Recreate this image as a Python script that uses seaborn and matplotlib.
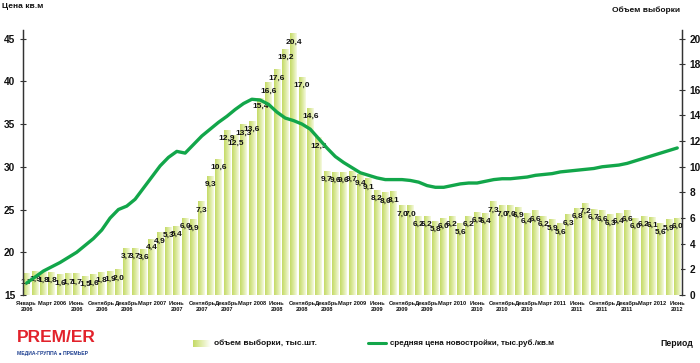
import numpy as np
import pandas as pd
import matplotlib
matplotlib.use("Agg")
import matplotlib.pyplot as plt
import seaborn as sns
from matplotlib import font_manager
from matplotlib.colors import LinearSegmentedColormap
from matplotlib.lines import Line2D

# ---------------- data ----------------
volume = [1.7, 1.9, 1.8, 1.8, 1.6, 1.7, 1.7, 1.5, 1.6, 1.8, 1.9, 2.0,
          3.7, 3.7, 3.6, 4.4, 4.9, 5.3, 5.4, 6.0, 5.9, 7.3, 9.3, 10.6,
          12.9, 12.5, 13.3, 13.6, 15.4, 16.6, 17.6, 19.2, 20.4, 17.0, 14.6, 12.3,
          9.7, 9.6, 9.6, 9.7, 9.4, 9.1, 8.2, 8.0, 8.1, 7.0, 7.0, 6.2,
          6.2, 5.8, 6.0, 6.2, 5.6, 6.2, 6.5, 6.4, 7.3, 7.0, 7.0, 6.9,
          6.4, 6.6, 6.2, 5.9, 5.6, 6.3, 6.8, 7.2, 6.7, 6.6, 6.3, 6.4,
          6.6, 6.0, 6.2, 6.1, 5.6, 5.9, 6.0]

price = [16.4, 17.1, 17.8, 18.3, 18.8, 19.4, 20.0, 20.8, 21.6, 22.6, 24.0, 25.0,
         25.4, 26.2, 27.5, 28.8, 30.1, 31.1, 31.8, 31.6, 32.6, 33.6, 34.4, 35.2,
         35.9, 36.7, 37.4, 37.9, 37.8, 37.3, 36.4, 35.7, 35.4, 35.0, 34.4, 33.3,
         32.2, 31.2, 30.5, 29.9, 29.3, 29.0, 28.7, 28.5, 28.5, 28.5, 28.4, 28.2,
         27.8, 27.6, 27.6, 27.8, 28.0, 28.1, 28.1, 28.3, 28.5, 28.6, 28.6, 28.7,
         28.8, 29.0, 29.1, 29.2, 29.4, 29.5, 29.6, 29.7, 29.8, 30.0, 30.1, 30.2,
         30.4, 30.7, 31.0, 31.3, 31.6, 31.9, 32.2]

tick_labels = ["Январь\n2006", "Март 2006", "Июнь\n2006", "Сентябрь\n2006", "Декабрь\n2006",
               "Март 2007", "Июнь\n2007", "Сентябрь\n2007", "Декабрь\n2007",
               "Март 2008", "Июнь\n2008", "Сентябрь\n2008", "Декабрь\n2008",
               "Март 2009", "Июнь\n2009", "Сентябрь\n2009", "Декабрь\n2009",
               "Март 2010", "Июнь\n2010", "Сентябрь\n2010", "Декабрь\n2010",
               "Март 2011", "Июнь\n2011", "Сентябрь\n2011", "Декабрь\n2011",
               "Март 2012", "Июнь\n2012"]

left_ticks = [15, 20, 25, 30, 35, 40, 45]
right_ticks = [0, 2, 4, 6, 8, 10, 12, 14, 16, 18, 20]

# ---------------- fonts ----------------
names = {f.name for f in font_manager.fontManager.ttflist}
NARROW = "Liberation Sans Narrow" if "Liberation Sans Narrow" in names else "Liberation Sans"
FAM = [NARROW, "DejaVu Sans"]

sns.set_theme(style="white")
plt.rcParams["font.family"] = FAM

GREEN = "#12a64a"
TXT = "#111111"

n = len(volume)
df = pd.DataFrame({"i": np.arange(n), "volume": volume, "price": price})

fig = plt.figure(figsize=(7.0, 3.63), dpi=100)
W, H = 700, 363
ax = fig.add_axes([23 / W, 1 - 295 / H, (682 - 23) / W, (295 - 30) / H])

# bars (right scale)
sns.barplot(data=df, x="i", y="volume", ax=ax, color="#d6e68f", width=0.8,
            saturation=1, edgecolor="none", linewidth=0)

cmap = LinearSegmentedColormap.from_list("bg", ["#c4da66", "#dbe99c", "#f6fae2"])
grad = np.linspace(0, 1, 64).reshape(1, -1)
for p in list(ax.patches):
    x0, y0 = p.get_x(), p.get_y()
    w, h = p.get_width(), p.get_height()
    im = ax.imshow(grad, extent=[x0, x0 + w, y0, y0 + h], aspect="auto",
                   cmap=cmap, zorder=p.get_zorder(), interpolation="bilinear")
    im.set_clip_path(p)

xmin, xmax = -0.44, 78.57
ax.set_xlim(xmin, xmax)
ax.set_ylim(0, 20.667)

for i, v in enumerate(volume):
    ax.annotate(f"{v:.1f}".replace(".", ","), (i, v), xytext=(0, -6.3),
                textcoords="offset points", ha="center", va="center",
                fontsize=6.0, fontweight="bold", color=TXT, zorder=5)

# line (left scale)
ax2 = ax.twinx()
sns.lineplot(data=df, x="i", y="price", ax=ax2, color=GREEN, linewidth=2.4)
ax2.set_ylim(15, 46)
ax2.set_xlim(xmin, xmax)

# axes styling
ax.yaxis.tick_right()
ax.yaxis.set_label_position("right")
ax2.yaxis.tick_left()
ax2.yaxis.set_label_position("left")
ax.set_yticks(right_ticks)
ax2.set_yticks(left_ticks)
ax.set_xticks(list(range(0, n, 3)))
ax.set_xticklabels(tick_labels)
for a in (ax, ax2):
    a.set_xlabel("")
    a.set_ylabel("")
    a.spines["top"].set_visible(False)
    a.spines["bottom"].set_visible(False)
    a.spines["left"].set_visible(True)
    a.spines["right"].set_visible(True)
    a.spines["left"].set_color("#333333")
    a.spines["right"].set_color("#333333")
    a.spines["left"].set_linewidth(0.9)
    a.spines["right"].set_linewidth(0.9)
    a.grid(False)
ax.patch.set_visible(False)

ax.tick_params(axis="y", which="both", right=True, left=False, direction="inout",
               length=5, width=0.8, color="#333333", labelsize=7.3, pad=3,
               labelcolor=TXT)
ax2.tick_params(axis="y", which="both", left=True, right=False, direction="inout",
                length=5, width=0.8, color="#333333", labelsize=7.3, pad=3,
                labelcolor=TXT)
ax.tick_params(axis="x", length=0, pad=4, labelsize=4.1, labelcolor=TXT)
for t in ax.get_xticklabels():
    t.set_fontweight("bold")
    t.set_linespacing(1.3)
for t in ax.get_yticklabels() + ax2.get_yticklabels():
    t.set_fontweight("bold")
ax2.tick_params(axis="x", bottom=False, labelbottom=False)

# titles
fig.text(2 / W, 1 - 6 / H, "Цена кв.м", fontsize=6.0, fontweight="bold",
         color=TXT, va="center", ha="left")
fig.text(612 / W, 1 - 10 / H, "Объем выборки", fontsize=6.0, fontweight="bold",
         color=TXT, va="center", ha="left")
fig.text(660 / W, 1 - 343 / H, "Период", fontsize=6.2, fontweight="bold",
         color=TXT, va="center", ha="left")

# legend
lax = fig.add_axes([193 / W, 1 - 347 / H, 18 / W, 7 / H])
lax.imshow(grad, aspect="auto", cmap=LinearSegmentedColormap.from_list(
    "lg", ["#c4da66", "#e3eeb0", "#ffffff"]), extent=[0, 1, 0, 1])
lax.set_axis_off()
fig.text(214 / W, 1 - 343 / H, "объем выборки, тыс.шт.", fontsize=6.0,
         fontweight="bold", color=TXT, va="center", ha="left")
fig.add_artist(Line2D([368 / W, 386 / W], [1 - 343 / H, 1 - 343 / H],
                      transform=fig.transFigure, color=GREEN, linewidth=2.2))
fig.text(390 / W, 1 - 343 / H, "средняя цена новостройки, тыс.руб./кв.м",
         fontsize=5.8, fontweight="bold", color=TXT, va="center", ha="left")

# logo
fig.text(17 / W, 1 - 338 / H, "PREM/ER", fontsize=12.5, fontweight="heavy",
         color="#e2222b", va="center", ha="left", family=["Liberation Sans", "DejaVu Sans"])
fig.text(17 / W, 1 - 353 / H, "МЕДИА-ГРУППА ● ПРЕМЬЕР", fontsize=3.6,
         fontweight="bold", color="#1b3d8f", va="center", ha="left",
         family=["Liberation Sans", "DejaVu Sans"])

fig.savefig("out.png", dpi=100)
